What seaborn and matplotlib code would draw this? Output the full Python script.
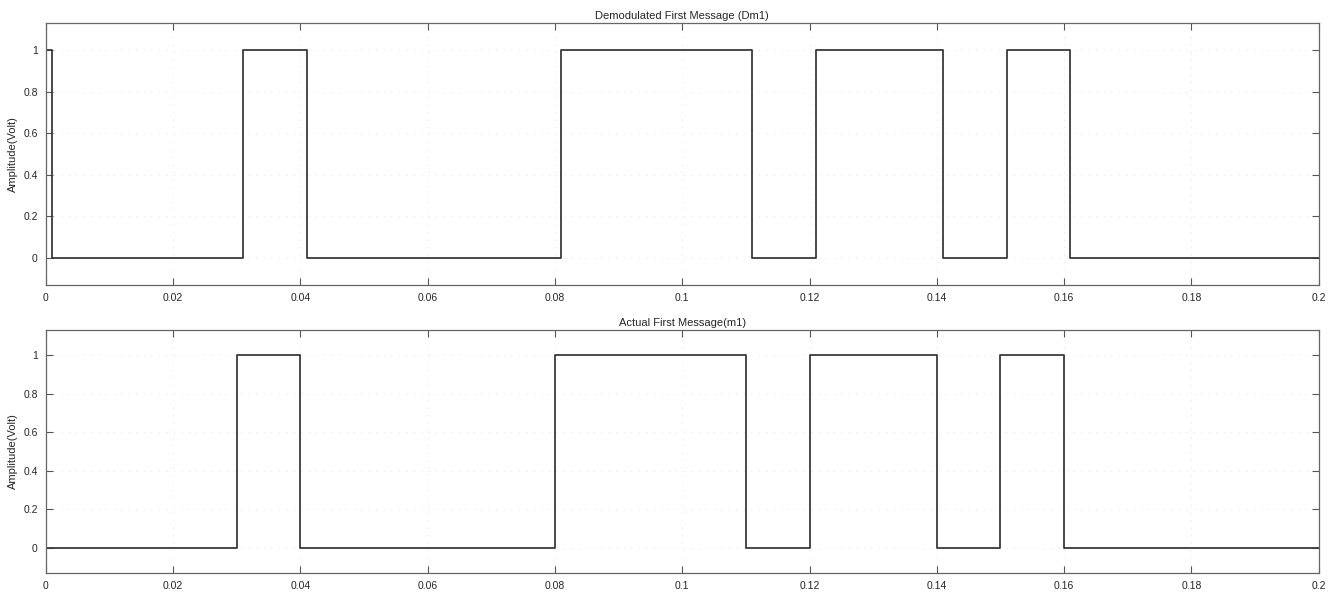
import matplotlib
matplotlib.use("Agg")
import matplotlib.pyplot as plt
import seaborn as sns
import pandas as pd

# bit edges (s) and levels, step-post
dm1_t = [0, 0.001, 0.031, 0.041, 0.081, 0.111, 0.121, 0.141, 0.151, 0.161, 0.2]
dm1_v = [1, 0, 1, 0, 1, 0, 1, 0, 1, 0, 0]
m1_t = [0, 0.03, 0.04, 0.08, 0.11, 0.12, 0.14, 0.15, 0.16, 0.2]
m1_v = [0, 1, 0, 1, 0, 1, 0, 1, 0, 0]

titles = ['Demodulated First Message (Dm1)', 'Actual First Message(m1)']
xticks = [0, 0.02, 0.04, 0.06, 0.08, 0.1, 0.12, 0.14, 0.16, 0.18, 0.2]
xtick_labels = ['0', '0.02', '0.04', '0.06', '0.08', '0.1', '0.12', '0.14', '0.16', '0.18', '0.2']
yticks = [0, 0.2, 0.4, 0.6, 0.8, 1]
ytick_labels = ['0', '0.2', '0.4', '0.6', '0.8', '1']

sns.set_style('white')
plt.rcParams['font.family'] = ['Liberation Sans', 'DejaVu Sans']

fig = plt.figure(figsize=(13.36, 5.92), dpi=100)
positions = [[0.0344, 0.519, 0.9526, 0.442], [0.0344, 0.032, 0.9526, 0.4106]]
series = [(dm1_t, dm1_v), (m1_t, m1_v)]

for pos, (t, v), title in zip(positions, series, titles):
    ax = fig.add_axes(pos)
    df = pd.DataFrame({'t': t, 'v': v})
    sns.lineplot(data=df, x='t', y='v', ax=ax, drawstyle='steps-post',
                 color='#3a3a3a', linewidth=1.3, estimator=None, sort=False)
    ax.set_xlim(0, 0.2)
    ax.set_ylim(-0.13, 1.13)
    ax.set_xticks(xticks)
    ax.set_xticklabels(xtick_labels, fontsize=7.5)
    ax.set_yticks(yticks)
    ax.set_yticklabels(ytick_labels, fontsize=7.5)
    ax.tick_params(direction='in', length=5, width=0.8, color='#555555',
                   top=True, right=True, bottom=True, left=True, pad=6)
    ax.grid(True, linestyle=(0, (1, 8)), color='#d8d8d8', linewidth=0.6)
    for s in ax.spines.values():
        s.set_color('#666666')
        s.set_linewidth(0.9)
    ax.set_xlabel('')
    ax.set_ylabel('Amplitude(Volt)', fontsize=8)
    ax.set_title(title, fontsize=8, pad=3)

fig.savefig('out.png', dpi=100)
